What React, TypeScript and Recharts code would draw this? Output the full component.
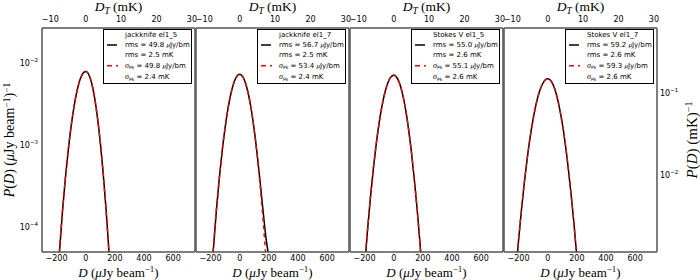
import React from 'react';
import { LineChart, Line, XAxis, YAxis, Legend } from 'recharts';

// ---- data ----
const D_GRID = [-240, -220, -200, -180, -160, -140, -120, -100, -80, -60, -40, -20, 0, 20, 40, 60, 80, 100, 120, 140, 160, 180, 200, 220, 240];

const JK5_DATA = [1.0e-6, 4.3e-6, 1.5e-5, 5.0e-5, 1.52e-4, 3.88e-4, 8.7e-4, 1.72e-3, 2.99e-3, 4.6e-3, 6.25e-3, 7.52e-3, 7.98e-3, 7.37e-3, 5.8e-3, 3.89e-3, 2.23e-3, 1.09e-3, 4.55e-4, 1.62e-4, 4.9e-5, 1.3e-5, 3.0e-6, 6e-7, 1.2e-7];
const JK5_FIT = [1.1e-6, 4.7e-6, 1.7e-5, 5.47e-5, 1.56e-4, 3.92e-4, 8.73e-4, 1.72e-3, 2.99e-3, 4.6e-3, 6.25e-3, 7.52e-3, 8.0e-3, 7.38e-3, 5.81e-3, 3.89e-3, 2.22e-3, 1.08e-3, 4.49e-4, 1.59e-4, 4.78e-5, 1.23e-5, 2.7e-6, 5e-7, 1e-7];

const JK7_DATA = [1.2e-6, 5.0e-6, 1.7e-5, 5.6e-5, 1.62e-4, 3.98e-4, 8.65e-4, 1.66e-3, 2.85e-3, 4.32e-3, 5.82e-3, 6.93e-3, 7.35e-3, 6.9e-3, 5.72e-3, 4.17e-3, 2.68e-3, 1.52e-3, 7.7e-4, 3.6e-4, 1.6e-4, 7.5e-5, 4.2e-5, 1.8e-5, 6e-6];
const JK7_FIT = [1.4e-6, 5.6e-6, 1.94e-5, 6.0e-5, 1.65e-4, 4.02e-4, 8.7e-4, 1.67e-3, 2.86e-3, 4.33e-3, 5.83e-3, 6.97e-3, 7.4e-3, 6.94e-3, 5.73e-3, 4.17e-3, 2.67e-3, 1.5e-3, 7.45e-4, 3.25e-4, 1.25e-4, 4.22e-5, 1.26e-5, 3.3e-6, 7.6e-7];

const SV5_DATA = [2.9e-6, 1.03e-5, 3.25e-5, 9.1e-5, 2.29e-4, 5.15e-4, 1.04e-3, 1.89e-3, 3.06e-3, 4.45e-3, 5.8e-3, 6.8e-3, 7.18e-3, 6.77e-3, 5.71e-3, 4.27e-3, 2.84e-3, 1.66e-3, 8.7e-4, 4.05e-4, 1.72e-4, 6.5e-5, 2.2e-5, 6.6e-6, 1.8e-6];
const SV5_FIT = [3.1e-6, 1.08e-5, 3.33e-5, 9.25e-5, 2.31e-4, 5.17e-4, 1.04e-3, 1.88e-3, 3.05e-3, 4.44e-3, 5.81e-3, 6.82e-3, 7.2e-3, 6.79e-3, 5.7e-3, 4.26e-3, 2.83e-3, 1.67e-3, 8.78e-4, 4.1e-4, 1.71e-4, 6.34e-5, 2.09e-5, 6.1e-6, 1.6e-6];

const SV7_DATA = [9.2e-6, 2.65e-5, 6.95e-5, 1.65e-4, 3.57e-4, 7.05e-4, 1.28e-3, 2.1e-3, 3.16e-3, 4.34e-3, 5.41e-3, 6.2e-3, 6.48e-3, 6.17e-3, 5.32e-3, 4.14e-3, 2.91e-3, 1.85e-3, 1.06e-3, 5.45e-4, 2.55e-4, 1.12e-4, 4.3e-5, 1.5e-5, 4.9e-6];
const SV7_FIT = [9.6e-6, 2.73e-5, 7.06e-5, 1.67e-4, 3.59e-4, 7.09e-4, 1.28e-3, 2.1e-3, 3.15e-3, 4.33e-3, 5.42e-3, 6.21e-3, 6.5e-3, 6.18e-3, 5.31e-3, 4.13e-3, 2.9e-3, 1.84e-3, 1.06e-3, 5.5e-4, 2.58e-4, 1.1e-4, 4.21e-5, 1.46e-5, 4.6e-6];

const PANEL_TITLES = ['jackknife el1_5', 'jackknife el1_7', 'Stokes V el1_5', 'Stokes V el1_7'];
const RMS_UJY = ['49.8', '56.7', '55.0', '59.2'];
const RMS_MK = ['2.5', '2.5', '2.6', '2.6'];
const SIG_UJY = ['49.8', '53.4', '55.1', '59.3'];
const SIG_MK = ['2.4', '2.4', '2.6', '2.6'];

const D_TICKS = [-200, 0, 200, 400, 600];
const DT_TICKS = [-10, 0, 10, 20, 30];
const P_MAJOR = [1e-4, 1e-3, 1e-2];
const PMK_MAJOR = [1e-2, 1e-1];

const SERIES = [
  [JK5_DATA, JK5_FIT],
  [JK7_DATA, JK7_FIT],
  [SV5_DATA, SV5_FIT],
  [SV7_DATA, SV7_FIT],
];

// ---- layout / style ----
const CHART_W = 700;
const CHART_H = 280;
const PANEL_LEFT = [42, 196, 350, 504];
const PANEL_W = 153;
const PLOT_TOP = 28;
const PLOT_BOTTOM = 252;
const D_DOMAIN: [number, number] = [-300, 750];
const P_DOMAIN: [number, number] = [5e-5, 0.027];
const UJY_PER_MK = 24.3;
const PMK_FACTOR = 22.8;
const SPINE = '#555';
const SANS = "'DejaVu Sans', sans-serif";
const SERIF = "'Liberation Serif', serif";
const THIN = 0.01;
const LEG_W = 89;

const minorTicks = (lo: number, hi: number) => {
  const out: number[] = [];
  for (let e = -6; e <= 1; e++) {
    for (let m = 2; m <= 9; m++) {
      const v = m * Math.pow(10, e);
      if (v >= lo && v <= hi) out.push(v);
    }
  }
  return out;
};

const fmtNum = (v: number) => (v < 0 ? '\u2212' + Math.abs(v) : String(v));

const BottomTick = (props: any) => {
  const { x, y, payload } = props;
  return (
    <text x={x} y={y + 9} textAnchor="middle" fontFamily={SANS} fontSize={8} fill="#000">
      {fmtNum(payload.value)}
    </text>
  );
};

const TopTick = (props: any) => {
  const { x, y, payload } = props;
  return (
    <text x={x} y={y - 6.5} textAnchor="middle" fontFamily={SANS} fontSize={8} fill="#000">
      {fmtNum(Math.round(payload.value / UJY_PER_MK))}
    </text>
  );
};

const LogTick = (side: 'left' | 'right') => (props: any) => {
  const { x, y, payload } = props;
  const e = Math.round(Math.log10(payload.value));
  return (
    <text x={side === 'left' ? x - 4 : x + 3} y={y + 3} textAnchor={side === 'left' ? 'end' : 'start'} fontFamily={SANS} fontSize={8} fill="#000">
      10<tspan dy={-4} fontSize={5.5}>{fmtNum(e)}</tspan>
    </text>
  );
};

const TopTitle = (props: any) => {
  const { x, y, width } = props.viewBox;
  return (
    <text x={x + width / 2} y={y - 17} textAnchor="middle" fontFamily={SERIF} fontSize={13.5} fill="#000">
      <tspan fontStyle="italic">D</tspan>
      <tspan fontStyle="italic" fontSize={9.5} dy={2.5}>T</tspan>
      <tspan dy={-2.5}>{'\u00a0(mK)'}</tspan>
    </text>
  );
};

const BottomTitle = (props: any) => {
  const { x, y, width } = props.viewBox;
  return (
    <text x={x + width / 2} y={y + 25} textAnchor="middle" fontFamily={SERIF} fontSize={13} fill="#000">
      <tspan fontStyle="italic">D</tspan>
      <tspan>{'\u00a0('}</tspan>
      <tspan fontStyle="italic">μ</tspan>
      <tspan>Jy beam</tspan>
      <tspan dy={-5} fontSize={9}>−1</tspan>
      <tspan dy={5}>)</tspan>
    </text>
  );
};

const LeftTitle = (props: any) => {
  const { x, y, height } = props.viewBox;
  const cx = x - 28;
  const cy = y + height / 2;
  return (
    <text x={cx} y={cy} transform={`rotate(-90 ${cx} ${cy})`} textAnchor="middle" fontFamily={SERIF} fontSize={14} fill="#000">
      <tspan fontStyle="italic">P</tspan>
      <tspan>(</tspan>
      <tspan fontStyle="italic">D</tspan>
      <tspan>{')\u00a0('}</tspan>
      <tspan fontStyle="italic">μ</tspan>
      <tspan>Jy beam</tspan>
      <tspan dy={-4.5} fontSize={9.5}>−1</tspan>
      <tspan dy={4.5}>)</tspan>
      <tspan dy={-4.5} fontSize={9.5}>−1</tspan>
    </text>
  );
};

const RightTitle = (props: any) => {
  const { x, y, height } = props.viewBox;
  const cx = x + 40;
  const cy = y + height / 2;
  return (
    <text x={cx} y={cy} transform={`rotate(-90 ${cx} ${cy})`} textAnchor="middle" fontFamily={SERIF} fontSize={15} fill="#000">
      <tspan fontStyle="italic">P</tspan>
      <tspan>(</tspan>
      <tspan fontStyle="italic">D</tspan>
      <tspan>{')\u00a0(mK)'}</tspan>
      <tspan dy={-5} fontSize={10}>−1</tspan>
    </text>
  );
};

const Mu = () => <span style={{ fontFamily: SERIF, fontStyle: 'italic', fontSize: 7 }}>μ</span>;
const Sig = () => (
  <span>
    <span style={{ fontFamily: SERIF, fontStyle: 'italic', fontSize: 8 }}>σ</span>
    <span style={{ fontSize: 4.5, position: 'relative', top: 1.5 }}>Pk</span>
  </span>
);

function LegendBox({ idx }: { idx: number }) {
  const rows: { handle: string | null; content: React.ReactNode }[] = [
    { handle: null, content: PANEL_TITLES[idx] },
    { handle: 'data', content: <>rms = {RMS_UJY[idx]} <Mu />Jy/bm</> },
    { handle: null, content: <>rms = {RMS_MK[idx]} mK</> },
    { handle: 'fit', content: <><Sig /> = {SIG_UJY[idx]} <Mu />Jy/bm</> },
    { handle: null, content: <><Sig /> = {SIG_MK[idx]} mK</> },
  ];
  const heights = [10, 10, 10, 11.5, 11.5];
  return (
    <div style={{ width: LEG_W, boxSizing: 'border-box', border: '1px solid #000', background: '#fff', fontFamily: SANS, fontSize: 7, color: '#000', lineHeight: 1 }}>
      {rows.map((r, i) => (
        <div key={i} style={{ display: 'flex', alignItems: 'center', height: heights[i], whiteSpace: 'nowrap' }}>
          <svg width={21} height={heights[i]} style={{ flex: 'none', display: 'block' }}>
            {r.handle === 'data' && <line x1={3} x2={13} y1={heights[i] / 2} y2={heights[i] / 2} stroke="#000" strokeWidth={1.5} />}
            {r.handle === 'fit' && <line x1={3} x2={14} y1={heights[i] / 2} y2={heights[i] / 2} stroke="#ff0000" strokeWidth={1.5} strokeDasharray="5 4" />}
          </svg>
          <span>{r.content}</span>
        </div>
      ))}
    </div>
  );
}

function Panel({ idx }: { idx: number }) {
  const left = PANEL_LEFT[idx];
  const right = CHART_W - left - PANEL_W;
  const [dataVals, fitVals] = SERIES[idx];
  const rows = D_GRID.map((D, i) => ({ D, data: dataVals[i], fit: fitVals[i] }));
  const isFirst = idx === 0;
  const isLast = idx === 3;
  const rDomain: [number, number] = isLast ? [P_DOMAIN[0] * PMK_FACTOR, P_DOMAIN[1] * PMK_FACTOR] : P_DOMAIN;
  const rMajor = isLast ? PMK_MAJOR : P_MAJOR;
  const dtTicks = DT_TICKS.map((t) => t * UJY_PER_MK);
  const legendLeft = left + PANEL_W - 3 - LEG_W;

  const xCommon = { dataKey: 'D', type: 'number' as const, domain: D_DOMAIN, allowDataOverflow: true, interval: 0 as const, height: THIN };
  const yCommon = { type: 'number' as const, scale: 'log' as const, allowDataOverflow: true, interval: 0 as const, width: THIN };

  return (
    <LineChart width={CHART_W} height={CHART_H} data={rows} margin={{ top: PLOT_TOP, bottom: CHART_H - PLOT_BOTTOM, left, right }}>
      <XAxis xAxisId="b" orientation="bottom" {...xCommon} ticks={D_TICKS} tickSize={0} tickMargin={0} tickLine={false} axisLine={false} tick={BottomTick} label={{ content: BottomTitle }} />
      <XAxis xAxisId="bm" orientation="bottom" mirror {...xCommon} ticks={D_TICKS} tickSize={4} tick={false} stroke={SPINE} axisLine={{ strokeWidth: 1.5 }} tickLine={{ strokeWidth: 1 }} />
      <XAxis xAxisId="t" orientation="top" {...xCommon} ticks={dtTicks} tickSize={0} tickMargin={0} tickLine={false} axisLine={false} tick={TopTick} label={{ content: TopTitle }} />
      <XAxis xAxisId="tm" orientation="top" mirror {...xCommon} ticks={dtTicks} tickSize={4} tick={false} stroke={SPINE} axisLine={{ strokeWidth: 1.5 }} tickLine={{ strokeWidth: 1 }} />
      <YAxis yAxisId="l" orientation="left" {...yCommon} domain={P_DOMAIN} ticks={P_MAJOR} tickSize={0} tickMargin={0} tickLine={false} axisLine={false} tick={isFirst ? LogTick('left') : false} label={isFirst ? { content: LeftTitle } : undefined} />
      <YAxis yAxisId="lm" orientation="left" mirror {...yCommon} domain={P_DOMAIN} ticks={P_MAJOR} tickSize={4.5} tick={false} stroke={SPINE} axisLine={{ strokeWidth: 1.5 }} tickLine={{ strokeWidth: 1 }} />
      <YAxis yAxisId="ln" orientation="left" mirror {...yCommon} domain={P_DOMAIN} ticks={minorTicks(P_DOMAIN[0], P_DOMAIN[1])} tickSize={2.5} tick={false} stroke={SPINE} axisLine={false} tickLine={{ strokeWidth: 1 }} />
      {isLast && (
        <YAxis yAxisId="r" orientation="right" {...yCommon} domain={rDomain} ticks={rMajor} tickSize={0} tickMargin={0} tickLine={false} axisLine={false} tick={LogTick('right')} label={{ content: RightTitle }} />
      )}
      <YAxis yAxisId="rm" orientation="right" mirror {...yCommon} domain={rDomain} ticks={rMajor} tickSize={4.5} tick={false} stroke={SPINE} axisLine={{ strokeWidth: 1.5 }} tickLine={{ strokeWidth: 1 }} />
      <YAxis yAxisId="rn" orientation="right" mirror {...yCommon} domain={rDomain} ticks={minorTicks(rDomain[0], rDomain[1])} tickSize={2.5} tick={false} stroke={SPINE} axisLine={false} tickLine={{ strokeWidth: 1 }} />

      <Line xAxisId="b" yAxisId="l" dataKey="data" type="monotone" stroke="#000" strokeWidth={1.5} dot={false} isAnimationActive={false} />
      <Line xAxisId="b" yAxisId="l" dataKey="fit" type="monotone" stroke="#ff0000" strokeWidth={1.5} strokeDasharray="4 4" dot={false} isAnimationActive={false} />

      <Legend
        layout="vertical"
        align="center"
        verticalAlign="middle"
        wrapperStyle={{ left: legendLeft, top: PLOT_TOP + 1, width: LEG_W }}
        content={() => <LegendBox idx={idx} />}
      />
    </LineChart>
  );
}

export default function App() {
  return (
    <div style={{ position: 'absolute', left: 0, top: 0, width: CHART_W, height: CHART_H, background: '#fff' }}>
      {[0, 1, 2, 3].map((i) => (
        <div key={i} style={{ position: 'absolute', left: 0, top: 0 }}>
          <Panel idx={i} />
        </div>
      ))}
    </div>
  );
}
